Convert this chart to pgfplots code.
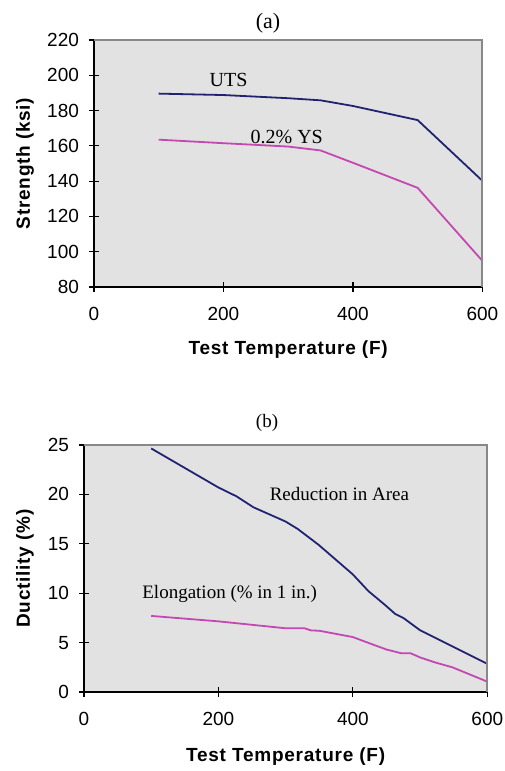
\documentclass[border=0pt]{standalone}
\usepackage{fontspec}
\setmainfont{Liberation Sans}
\newfontfamily\tnr{Liberation Serif}
\usepackage{pgfplots}
\pgfplotsset{compat=1.18}

\definecolor{navyline}{RGB}{32,36,112}
\definecolor{pinkline}{RGB}{196,72,178}
\definecolor{plotbg}{RGB}{226,226,226}
\definecolor{frameg}{RGB}{136,136,136}

\pgfplotsset{
  panel/.style={
    scale only axis,
    axis lines=left,
    axis line style={-, black, line width=0.8pt},
    axis background/.style={fill=plotbg},
    tick align=center,
    major tick length=5pt,
    tick style={black, line width=0.6pt},
    xmin=0, xmax=600,
    xtick={0,200,400,600},
    ticklabel style={font=\fontsize{9.5}{11}\selectfont},
    /pgf/number format/assume math mode=true,
    yticklabel style={xshift=-1.5pt},
    xticklabel style={yshift=-4pt},
    label style={font=\fontsize{9.5}{11}\selectfont\bfseries\addfontfeature{LetterSpace=4}},
    clip=false,
  },
  uts/.style={navyline, line width=0.9pt},
  ys/.style={pinkline, line width=0.9pt},
}

\begin{document}
\begin{tikzpicture}
\path[use as bounding box] (0,0) rectangle (252pt,385.5pt);

% (a) strength
\begin{axis}[panel,
  at={(47pt,242pt)}, anchor=south west,
  width=194.2pt, height=123.5pt,
  ymin=80, ymax=220, ytick={80,100,...,220},
  xlabel={Test Temperature (F)},
  ylabel={Strength (ksi)},
  xlabel style={at={([yshift=-31.5pt]axis description cs:0.5,0)}, anchor=center},
  ylabel style={at={([xshift=-34.5pt]axis description cs:0,0.5)}, anchor=center},
]
\addplot[uts] coordinates {
  (100,189.6) (200,188.8) (300,187) (350,185.8) (400,182.6) (500,174.6) (600,140.2)
};
\addplot[ys] coordinates {
  (100,163.5) (200,161.5) (300,159.6) (350,157.4) (400,150.4) (500,136.2) (600,94.8)
};
\draw[frameg, line width=0.9pt] (rel axis cs:0,1) -- (rel axis cs:1,1) -- (rel axis cs:1,0);
\node[font=\tnr\fontsize{10}{12}\selectfont] at (axis cs:208,197.2) {UTS};
\node[font=\tnr\fontsize{10}{12}\selectfont] at (axis cs:297.7,164.8) {0.2\% YS};
\end{axis}

% (b) ductility
\begin{axis}[panel,
  at={(42pt,39.5pt)}, anchor=south west,
  width=201.65pt, height=123.5pt,
  ymin=0, ymax=25, ytick={0,5,...,25},
  xlabel={Test Temperature (F)},
  ylabel={Ductility (\%)},
  xlabel style={at={([yshift=-32.5pt]axis description cs:0.5,0)}, anchor=center},
  ylabel style={at={([xshift=-29.5pt]axis description cs:0,0.5)}, anchor=center},
]
\addplot[uts] coordinates {
  (100,24.65) (200,20.7) (227,19.8) (252,18.7) (300,17.25) (318,16.5) (349,14.9)
  (400,11.9) (423,10.22) (448,8.8) (463,7.9) (475,7.5) (500,6.25) (550,4.55) (600,2.85)
};
\addplot[ys] coordinates {
  (100,7.7) (200,7.15) (300,6.45) (328,6.45) (338,6.23) (350,6.2) (400,5.56)
  (420,5.05) (450,4.3) (472,3.92) (486,3.92) (500,3.5) (522,3.0) (548,2.5) (600,1.05)
};
\draw[frameg, line width=0.9pt] (rel axis cs:0,1) -- (rel axis cs:1,1) -- (rel axis cs:1,0);
\node[font=\tnr\fontsize{9.5}{11}\selectfont] at (axis cs:380,20.04) {Reduction in Area};
\node[font=\tnr\fontsize{9.5}{11}\selectfont] at (axis cs:216.8,9.89) {Elongation (\% in 1 in.)};
\end{axis}

\node[font=\tnr\fontsize{11}{13}\selectfont] at (134pt,374pt) {(a)};
\node[font=\tnr\fontsize{9.5}{11}\selectfont] at (133.5pt,174pt) {(b)};
\end{tikzpicture}
\end{document}
